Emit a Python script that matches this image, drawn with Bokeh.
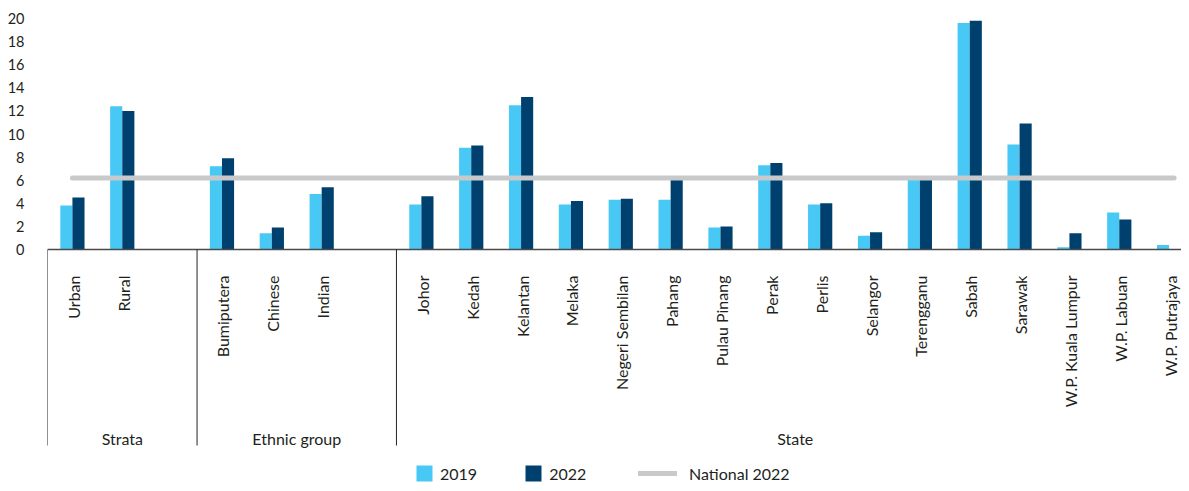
import numpy as np
from bokeh.plotting import figure
from bokeh.models import ColumnDataSource, FixedTicker, Legend, LegendItem, Range1d
from bokeh.transform import dodge
from bokeh.core.properties import value
from bokeh.embed import file_html
from bokeh.resources import INLINE

# ---------------- data ----------------
strata = ["Urban", "Rural"]
strata_2019 = [3.8, 12.4]
strata_2022 = [4.5, 12.0]

ethnic = ["Bumiputera", "Chinese", "Indian"]
ethnic_2019 = [7.2, 1.4, 4.8]
ethnic_2022 = [7.9, 1.9, 5.4]

states = ["Johor", "Kedah", "Kelantan", "Melaka", "Negeri Sembilan", "Pahang",
          "Pulau Pinang", "Perak", "Perlis", "Selangor", "Terengganu", "Sabah",
          "Sarawak", "W.P. Kuala Lumpur", "W.P. Labuan", "W.P. Putrajaya"]
states_2019 = [3.9, 8.8, 12.5, 3.9, 4.3, 4.3, 1.9, 7.3, 3.9, 1.2, 6.1, 19.6, 9.1, 0.2, 3.2, 0.4]
states_2022 = [4.6, 9.0, 13.2, 4.2, 4.4, 6.1, 2.0, 7.5, 4.0, 1.5, 6.1, 19.8, 10.9, 1.4, 2.6, 0.0]

group_names = ["Strata", "Ethnic group", "State"]
national_2022 = 6.2
y_ticks = [0, 2, 4, 6, 8, 10, 12, 14, 16, 18, 20]

# ---------------- layout of slots ----------------
groups = [(strata, strata_2019, strata_2022),
          (ethnic, ethnic_2019, ethnic_2022),
          (states, states_2019, states_2022)]
xs, labels, v19, v22, spans = [], [], [], [], []
i = 0
for gi, (cats, a, b) in enumerate(groups):
    start = i
    for c, p19, p22 in zip(cats, a, b):
        xs.append(i); labels.append(c); v19.append(p19); v22.append(p22)
        i += 1
    if gi < len(groups) - 1:
        i += 1  # blank slot after group
    spans.append((start - 0.5, i - 0.5))

src = ColumnDataSource(dict(x=xs, label=labels, v19=v19, v22=v22))

LIGHT = "#48C8F4"
DARK = "#00406F"
GREY = "#C8C9CB"
TXT = "#231F20"
FONT = "Lato"

W, H = 1181, 483
LEFT = 47
SLOT = 49.85
PX = 231 / 20.0  # pixels per unit
BASE = 249       # pixel row of y = 0
y_start = -(H - BASE) / PX
y_end = BASE / PX
x_end = -0.5 + (W - LEFT) / SLOT

p = figure(width=W, height=H, output_backend="svg", toolbar_location=None,
           x_range=Range1d(-0.5, x_end), y_range=Range1d(y_start, y_end),
           x_axis_location=None,
           min_border_left=LEFT, min_border_right=0, min_border_top=0, min_border_bottom=0)
p.grid.visible = False
p.outline_line_color = None
p.background_fill_color = "white"

ax = p.yaxis[0]
ax.ticker = FixedTicker(ticks=y_ticks)
ax.axis_line_color = None
ax.major_tick_line_color = None
ax.minor_tick_line_color = None
ax.major_tick_out = 0
ax.major_tick_in = 0
ax.major_label_standoff = 23
ax.major_label_text_font = FONT
ax.major_label_text_font_size = "14.5px"
ax.major_label_text_color = TXT

bw = 0.243
r19 = p.vbar(x=dodge("x", -bw / 2, range=p.x_range), top="v19", bottom=0, width=bw,
             source=src, fill_color=LIGHT, line_color=None)
r22 = p.vbar(x=dodge("x", bw / 2, range=p.x_range), top="v22", bottom=0, width=bw,
             source=src, fill_color=DARK, line_color=None)

# baseline
p.segment(x0=[-0.5], y0=[0], x1=[x_end + 1], y1=[0], line_color="#4A4A4A", line_width=1.6)

# national line
rn = p.line(x=[xs[0], xs[-1] + 0.1], y=[national_2022, national_2022],
            line_color=GREY, line_width=5, line_cap="round")

# category labels
p.text(x="x", y=-26 / PX, text="label", source=src, angle=np.pi / 2,
       text_align="right", text_baseline="middle", x_offset=1,
       text_font=value(FONT), text_font_size="16px", text_color=TXT)

# group separators and labels
sep_x = [s[0] for s in spans]
p.segment(x0=sep_x, y0=[0] * len(sep_x), x1=sep_x, y1=[-(445 - BASE) / PX] * len(sep_x),
          line_color="#222222", line_width=1)
p.text(x=[(s[0] + s[1]) / 2 for s in spans], y=[-(438 - BASE) / PX] * len(spans),
       text=group_names, text_align="center", text_baseline="middle",
       text_font=value(FONT), text_font_size="16px", text_color=TXT)

# legends
leg1 = Legend(items=[LegendItem(label="2019", renderers=[r19]),
                     LegendItem(label="2022", renderers=[r22])],
              orientation="horizontal", location=(367, 0),
              glyph_width=20, glyph_height=20, label_height=20, label_standoff=6,
              spacing=46, padding=0, margin=0, border_line_color=None,
              background_fill_alpha=0, label_text_font=FONT,
              label_text_font_size="16px", label_text_color=TXT)
leg2 = Legend(items=[LegendItem(label="National 2022", renderers=[rn])],
              orientation="horizontal", location=(591, 0),
              glyph_width=39, glyph_height=20, label_height=20, label_standoff=12,
              padding=0, margin=0, border_line_color=None,
              background_fill_alpha=0, label_text_font=FONT,
              label_text_font_size="16px", label_text_color=TXT)
p.add_layout(leg1)
p.add_layout(leg2)

open("out.html", "w").write(file_html(p, INLINE))
